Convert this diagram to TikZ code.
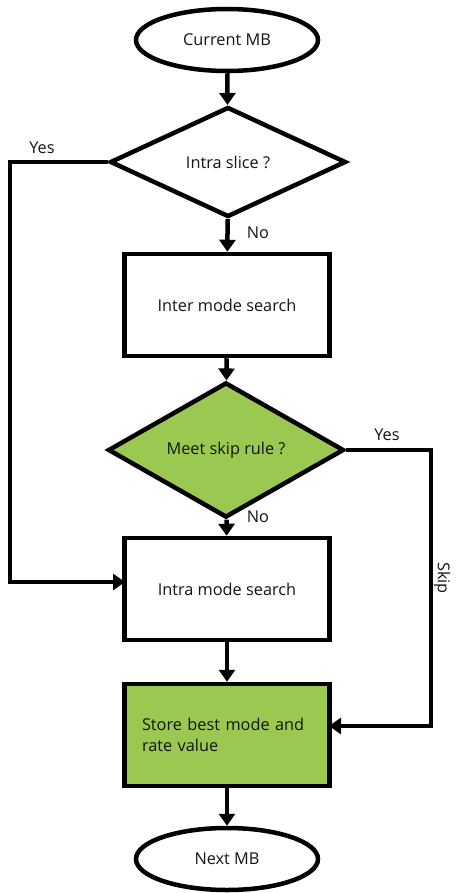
\documentclass[tikz,border=0pt]{standalone}
\usepackage{fontspec}
\setmainfont{Open Sans}
\usetikzlibrary{shapes.geometric,arrows.meta}
\definecolor{leaf}{RGB}{155,200,80}
\definecolor{ink}{RGB}{20,20,20}
\begin{document}
\begin{tikzpicture}[x=1pt,y=-1pt,
  every node/.style={font=\fontsize{16.3}{20.5}\selectfont, text=ink},
  term/.style={ellipse, draw=black, line width=4.5pt, minimum width=182pt, minimum height=62pt, inner sep=0pt},
  decision/.style={diamond, draw=black, line width=4.5pt, minimum width=236pt, minimum height=110pt, inner sep=0pt},
  proc/.style={rectangle, draw=black, line width=4.5pt, minimum width=205pt, minimum height=102pt, inner sep=0pt},
  conn/.style={draw=black, line width=4.5pt, -{Triangle[width=16pt,length=12pt]}},
  lbl/.style={inner sep=0pt}]
\useasboundingbox (0,0) rectangle (456,893);
\node[term] (cur) at (227,40) {Current MB};
\node[decision] (d1) at (228,162) {Intra slice ?};
\node[proc] (b1) at (227,305) {Inter mode search};
\node[decision, fill=leaf] (d2) at (226,450) {Meet skip rule ?};
\node[proc] (b2) at (227,589) {Intra mode search};
\node[proc, fill=leaf, text width=170pt, align=left] (b3) at (227,735) {Store best mode and\\rate value};
\node[term] (nxt) at (227,859) {Next MB};

\coordinate (yl) at (10,162);
\coordinate (yr) at (431,450);
\coordinate (b2in) at (125,582);
\coordinate (b3in) at (329,726);

\draw[conn] (cur) -- (d1);
\draw[conn] (d1) -- (b1);
\draw[conn] (b1) -- (d2);
\draw[conn] (d2) -- (b2);
\draw[conn] (b2) -- (b3);
\draw[conn] (b3) -- (nxt);
\draw[conn, line join=miter] (d1.west) -- (yl) |- (b2in);
\draw[conn, line join=miter] (d2.east) -- (yr) |- (b3in);

\node[lbl] (yes1) at (42,148) {Yes};
\node[lbl] (no1) at (258,233) {No};
\node[lbl] (yes2) at (387,435) {Yes};
\node[lbl] (no2) at (258,517) {No};
\node[lbl, rotate=-90] (skip) at (442,578) {Skip};
\end{tikzpicture}
\end{document}
